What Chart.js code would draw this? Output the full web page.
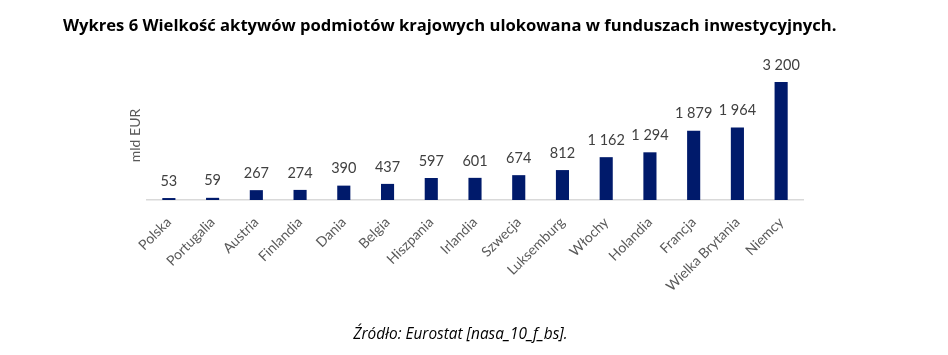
<!DOCTYPE html>
<html>
<head>
<meta charset="utf-8">
<script src="https://cdn.jsdelivr.net/npm/chart.js@4"></script>
<style>
  html, body { margin: 0; padding: 0; background: #ffffff; }
  #wrap { position: relative; width: 948px; height: 355px; overflow: hidden; background: #fff; }
  #chart { position: absolute; left: 0; top: 0; }
  #title { position: absolute; left: 63px; top: 13px; font-family: "Open Sans", Lato, sans-serif; font-weight: bold; font-size: 16.6px; color: #000; white-space: nowrap; }
  #source { position: absolute; left: 0; width: 921px; text-align: center; top: 323px; font-family: "Open Sans", Lato, sans-serif; font-style: italic; font-size: 15.4px; color: #000; white-space: nowrap; }
</style>
</head>
<body>
<div id="wrap">
  <canvas id="chart" width="948" height="355"></canvas>
  <div id="title">Wykres 6 Wielkość aktywów podmiotów krajowych ulokowana w funduszach inwestycyjnych.</div>
  <div id="source">Źródło: Eurostat [nasa_10_f_bs].</div>
</div>
<script>
const categories = ["Polska", "Portugalia", "Austria", "Finlandia", "Dania", "Belgia", "Hiszpania", "Irlandia", "Szwecja", "Luksemburg", "Włochy", "Holandia", "Francja", "Wielka Brytania", "Niemcy"];
const values = [53, 59, 267, 274, 390, 437, 597, 601, 674, 812, 1162, 1294, 1879, 1964, 3200];
const yAxisTitle = "mld EUR";

function fmt(v) {
  return String(v).replace(/\B(?=(\d{3})+(?!\d))/g, " ");
}

const valueLabels = {
  id: 'valueLabels',
  afterDatasetsDraw(chart) {
    const ctx = chart.ctx;
    const meta = chart.getDatasetMeta(0);
    ctx.save();
    ctx.font = '14.5px Lato, "Open Sans", sans-serif';
    ctx.fillStyle = '#404040';
    ctx.textAlign = 'center';
    ctx.textBaseline = 'middle';
    meta.data.forEach((bar, i) => {
      ctx.fillText(fmt(values[i]), bar.x, bar.y - 17);
    });
    ctx.restore();
  }
};

new Chart(document.getElementById('chart'), {
  type: 'bar',
  data: {
    labels: categories,
    datasets: [{
      data: values,
      backgroundColor: '#001A6B',
      borderColor: '#001A6B',
      borderWidth: 0,
      barPercentage: 0.3,
      categoryPercentage: 1.0
    }]
  },
  options: {
    responsive: false,
    animation: false,
    devicePixelRatio: 1,
    layout: { padding: { left: 127, right: 145, top: 71, bottom: 0 } },
    plugins: {
      legend: { display: false },
      tooltip: { enabled: false },
      title: { display: false }
    },
    scales: {
      x: {
        grid: { display: false, drawTicks: false },
        border: { display: true, color: '#d9d9d9', width: 1.5 },
        ticks: {
          color: '#595959',
          font: { family: 'Lato, "Open Sans", sans-serif', size: 14 },
          maxRotation: 45,
          minRotation: 45,
          padding: 14,
          autoSkip: false
        },
        afterFit(scale) { scale.height = 155; }
      },
      y: {
        min: 0,
        max: 3500,
        grid: { display: false, drawTicks: false },
        border: { display: false },
        ticks: { display: false },
        title: {
          display: true,
          text: yAxisTitle,
          color: '#595959',
          font: { family: 'Lato, "Open Sans", sans-serif', size: 14 },
          padding: 0
        },
        afterFit(scale) { scale.width = 20; }
      }
    }
  },
  plugins: [valueLabels]
});
</script>
</body>
</html>
